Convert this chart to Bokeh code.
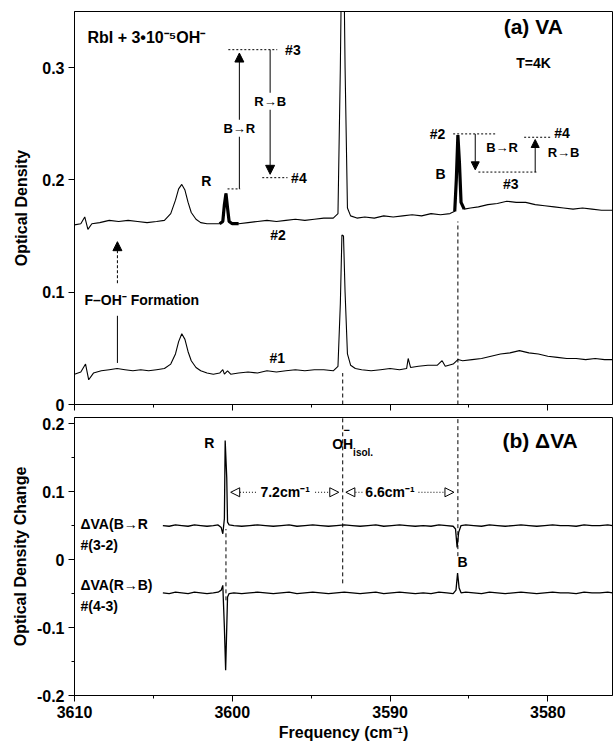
from bokeh.plotting import figure
from bokeh.models import Range1d, FixedTicker, Label, Arrow, NormalHead
from bokeh.layouts import column
from bokeh.embed import file_html
from bokeh.resources import INLINE

FONT = "Liberation Sans"

# ---------------- data ----------------
x_ticks = [3610, 3600, 3590, 3580]
x_minor_ticks = [3605, 3595, 3585, 3575]
top_y_ticks = [0, 0.1, 0.2, 0.3]
bot_y_ticks = [-0.2, -0.1, 0, 0.1, 0.2]
bot_y_minor = [-0.15, -0.05, 0.05, 0.15]

# spectrum #1 (before), optical density
spec1_x = [3610.0, 3609.6, 3609.3, 3609.1, 3608.8, 3608.3, 3607.8, 3607.3, 3606.8, 3606.3,
           3605.8, 3605.3, 3604.8, 3604.3, 3603.9, 3603.6, 3603.4, 3603.2, 3603.0, 3602.8,
           3602.6, 3602.3, 3602.0, 3601.6, 3601.2, 3600.8, 3600.6, 3600.5, 3600.3, 3600.1,
           3599.6, 3599.0, 3598.4, 3597.8, 3597.2, 3596.6, 3596.0, 3595.4, 3594.8, 3594.2,
           3593.6, 3593.3, 3593.15, 3593.05, 3592.95, 3592.85, 3592.7, 3592.5, 3592.2, 3591.8,
           3591.2, 3590.6, 3590.0, 3589.4, 3588.95, 3588.85, 3588.7, 3588.2, 3587.6, 3587.0,
           3586.7, 3586.5, 3586.0, 3585.7, 3585.4, 3584.8, 3584.2, 3583.6, 3583.0, 3582.4,
           3581.8, 3581.2, 3580.6, 3580.0, 3579.4, 3578.8, 3578.2, 3577.6, 3577.0, 3576.4,
           3575.9]
spec1_y = [0.027, 0.029, 0.036, 0.022, 0.028, 0.030, 0.031, 0.032, 0.031, 0.030,
           0.031, 0.030, 0.031, 0.032, 0.036, 0.045, 0.056, 0.063, 0.058, 0.047,
           0.039, 0.033, 0.030, 0.028, 0.027, 0.028, 0.031, 0.027, 0.030, 0.027,
           0.028, 0.029, 0.028, 0.030, 0.029, 0.030, 0.031, 0.030, 0.031, 0.031,
           0.030, 0.034, 0.090, 0.151, 0.150, 0.100, 0.045, 0.035, 0.032, 0.031,
           0.030, 0.031, 0.032, 0.031, 0.032, 0.041, 0.033, 0.034, 0.035, 0.035,
           0.039, 0.034, 0.036, 0.040, 0.039, 0.040, 0.041, 0.043, 0.045, 0.046,
           0.048, 0.046, 0.045, 0.043, 0.042, 0.041, 0.041, 0.040, 0.041, 0.040,
           0.040]

# spectrum #2 (after F-OH- formation), optical density
spec2_x = [3610.0, 3609.6, 3609.35, 3609.15, 3608.9, 3608.4, 3607.8, 3607.2, 3606.6, 3606.0,
           3605.4, 3604.8, 3604.3, 3603.9, 3603.6, 3603.4, 3603.2, 3603.0, 3602.8, 3602.6,
           3602.3, 3602.0, 3601.6, 3601.2, 3600.8, 3600.6, 3600.5, 3600.4, 3600.3, 3600.2,
           3600.0, 3599.6, 3599.0, 3598.4, 3597.8, 3597.2, 3596.6, 3596.0, 3595.4, 3594.8,
           3594.2, 3593.6, 3593.3, 3593.15, 3593.05, 3592.95, 3592.85, 3592.7, 3592.5, 3592.1,
           3591.6, 3591.0, 3590.4, 3589.8, 3589.2, 3588.6, 3588.0, 3587.4, 3586.8, 3586.2,
           3585.9, 3585.8, 3585.7, 3585.6, 3585.5, 3585.3, 3584.9, 3584.4, 3583.8, 3583.2,
           3582.6, 3582.0, 3581.4, 3580.8, 3580.2, 3579.6, 3579.0, 3578.4, 3577.8, 3577.2,
           3576.6, 3575.9]
spec2_y = [0.160, 0.161, 0.167, 0.156, 0.161, 0.162, 0.164, 0.163, 0.164, 0.163,
           0.162, 0.163, 0.164, 0.170, 0.182, 0.192, 0.196, 0.191, 0.180, 0.171,
           0.165, 0.162, 0.161, 0.161, 0.161, 0.163, 0.178, 0.188, 0.175, 0.163,
           0.161, 0.161, 0.162, 0.163, 0.164, 0.163, 0.164, 0.165, 0.164, 0.165,
           0.166, 0.166, 0.170, 0.300, 0.420, 0.420, 0.300, 0.175, 0.168, 0.166,
           0.167, 0.166, 0.168, 0.167, 0.168, 0.169, 0.168, 0.170, 0.169, 0.170,
           0.172, 0.200, 0.240, 0.215, 0.180, 0.174, 0.175, 0.176, 0.178, 0.179,
           0.181, 0.180, 0.180, 0.178, 0.177, 0.176, 0.175, 0.174, 0.175, 0.174,
           0.173, 0.173]

# difference spectrum  dVA(B->R)  #(3-2), offset +0.05
dbr_x = [3604.4, 3604.0, 3603.6, 3603.2, 3602.8, 3602.4, 3602.0, 3601.6, 3601.2, 3600.9,
         3600.7, 3600.6, 3600.5, 3600.45, 3600.35, 3600.3, 3600.2, 3599.9, 3599.4, 3598.9,
         3598.4, 3597.9, 3597.4, 3596.9, 3596.4, 3595.9, 3595.4, 3594.9, 3594.4, 3593.9,
         3593.4, 3592.9, 3592.4, 3591.9, 3591.4, 3590.9, 3590.4, 3589.9, 3589.4, 3588.9,
         3588.4, 3587.9, 3587.4, 3586.9, 3586.4, 3586.0, 3585.85, 3585.75, 3585.65, 3585.5,
         3585.2, 3584.7, 3584.2, 3583.7, 3583.2, 3582.7, 3582.2, 3581.7, 3581.2, 3580.7,
         3580.2, 3579.7, 3579.2, 3578.7, 3578.2, 3577.7, 3577.2, 3576.7, 3576.2, 3575.9]
dbr_y = [0.050, 0.049, 0.051, 0.050, 0.049, 0.051, 0.050, 0.049, 0.050, 0.051,
         0.047, 0.038, 0.060, 0.175, 0.120, 0.055, 0.051, 0.050, 0.049, 0.050,
         0.051, 0.050, 0.049, 0.050, 0.051, 0.049, 0.050, 0.051, 0.050, 0.049,
         0.050, 0.051, 0.050, 0.049, 0.050, 0.051, 0.049, 0.050, 0.051, 0.050,
         0.049, 0.050, 0.049, 0.051, 0.050, 0.049, 0.045, 0.018, 0.040, 0.050,
         0.051, 0.050, 0.049, 0.051, 0.050, 0.049, 0.050, 0.051, 0.050, 0.049,
         0.050, 0.051, 0.050, 0.050, 0.049, 0.051, 0.050, 0.050, 0.051, 0.050]

# difference spectrum  dVA(R->B)  #(4-3), offset -0.05
drb_x = [3604.4, 3604.0, 3603.6, 3603.2, 3602.8, 3602.4, 3602.0, 3601.6, 3601.2, 3600.9,
         3600.7, 3600.6, 3600.5, 3600.42, 3600.35, 3600.3, 3600.2, 3599.9, 3599.4, 3598.9,
         3598.4, 3597.9, 3597.4, 3596.9, 3596.4, 3595.9, 3595.4, 3594.9, 3594.4, 3593.9,
         3593.4, 3592.9, 3592.4, 3591.9, 3591.4, 3590.9, 3590.4, 3589.9, 3589.4, 3588.9,
         3588.4, 3587.9, 3587.4, 3586.9, 3586.4, 3586.0, 3585.82, 3585.72, 3585.62, 3585.5,
         3585.2, 3584.7, 3584.2, 3583.7, 3583.2, 3582.7, 3582.2, 3581.7, 3581.2, 3580.7,
         3580.2, 3579.7, 3579.2, 3578.7, 3578.2, 3577.7, 3577.2, 3576.7, 3576.2, 3575.9]
drb_y = [-0.049, -0.050, -0.048, -0.049, -0.050, -0.048, -0.049, -0.050, -0.049, -0.048,
         -0.045, -0.038, -0.100, -0.163, -0.100, -0.055, -0.050, -0.049, -0.050, -0.049,
         -0.048, -0.049, -0.050, -0.049, -0.048, -0.050, -0.049, -0.048, -0.049, -0.050,
         -0.049, -0.048, -0.049, -0.050, -0.049, -0.048, -0.050, -0.049, -0.048, -0.049,
         -0.050, -0.049, -0.050, -0.048, -0.049, -0.050, -0.045, -0.020, -0.042, -0.049,
         -0.048, -0.049, -0.050, -0.048, -0.049, -0.050, -0.049, -0.048, -0.049, -0.050,
         -0.049, -0.048, -0.049, -0.049, -0.050, -0.048, -0.049, -0.049, -0.048, -0.049]

# line positions
freq_R = 3600.4
freq_OH = 3593.0
freq_B = 3585.7

# levels used by the level diagrams (optical density)
lvl_R_left = 0.192
lvl_3_left = 0.316
lvl_4_left = 0.202
lvl_2_right = 0.241
lvl_3_right = 0.207
lvl_4_right = 0.238

# ---------------- helpers ----------------
def style_axes(p):
    p.outline_line_color = "black"
    p.outline_line_width = 1
    p.grid.grid_line_color = None
    for ax in p.axis:
        ax.axis_line_color = "black"
        ax.major_tick_in = 0
        ax.major_tick_out = 6
        ax.minor_tick_in = 0
        ax.minor_tick_out = 3
        ax.major_label_text_font = FONT
        ax.major_label_text_font_style = "bold"
        ax.major_label_text_font_size = "16px"
        ax.major_label_text_color = "black"
        ax.axis_label_text_font = FONT
        ax.axis_label_text_font_style = "bold"
        ax.axis_label_text_font_size = "16px"
        ax.axis_label_text_color = "black"
        ax.major_label_standoff = 4


def txt(p, x, y, s, size="14px", align="center", bg=None, baseline="middle"):
    lab = Label(x=x, y=y, text=s, text_font=FONT, text_font_style="bold",
                text_font_size=size, text_align=align, text_baseline=baseline,
                text_color="black")
    if bg:
        lab.background_fill_color = bg
        lab.padding = 1
    p.add_layout(lab)


def arrow(p, x0, y0, x1, y1, dash="solid", size=9):
    p.add_layout(Arrow(x_start=x0, y_start=y0, x_end=x1, y_end=y1, line_width=1,
                       line_color="black", line_dash=dash,
                       end=NormalHead(size=size, fill_color="black", line_color="black")))


def open_arrow(p, x0, y, x1):
    p.add_layout(Arrow(x_start=x0, y_start=y, x_end=x1, y_end=y, line_width=1,
                       line_color="black", line_dash="1 2",
                       end=NormalHead(size=9, fill_color="white", line_color="black",
                                      line_width=1)))


# ---------------- top panel ----------------
p1 = figure(width=613, height=414, x_range=Range1d(3610, 3575.9), y_range=Range1d(0, 0.35),
            output_backend="svg", toolbar_location=None, title=None,
            min_border_left=74, min_border_right=1, min_border_top=11, min_border_bottom=10)
style_axes(p1)
p1.xaxis.ticker = FixedTicker(ticks=x_ticks, minor_ticks=x_minor_ticks)
p1.xaxis.major_label_overrides = {t: "" for t in x_ticks}
p1.xaxis.major_label_text_font_size = "1px"
p1.xaxis.major_label_standoff = 0
p1.yaxis.ticker = FixedTicker(ticks=top_y_ticks, minor_ticks=[])
p1.yaxis.major_label_overrides = {0: "0", 0.1: "0.1", 0.2: "0.2", 0.3: "0.3"}
p1.yaxis.axis_label = "Optical Density"
p1.yaxis.axis_label_standoff = 9

p1.line(spec1_x, spec1_y, line_color="black", line_width=1.1)
p1.line(spec2_x, spec2_y, line_color="black", line_width=1.1)
# thick R and B lines of spectrum #2
for lo, hi in [(3599.6, 3600.9), (3585.0, 3586.0)]:
    xs = [x for x in spec2_x if lo <= x <= hi]
    ys = [y for x, y in zip(spec2_x, spec2_y) if lo <= x <= hi]
    p1.line(xs, ys, line_color="black", line_width=3.2)

# vertical dashed guides
p1.line([freq_OH, freq_OH], [0, 0.028], line_color="black", line_dash="4 3", line_width=1)
p1.line([freq_B, freq_B], [0, 0.163], line_color="black", line_dash="4 3", line_width=1)

# left level diagram
p1.line([3600.3, 3599.5], [lvl_R_left] * 2, line_color="black", line_dash="2 2")
p1.line([3600.25, 3597.15], [lvl_3_left] * 2, line_color="black", line_dash="2 2")
p1.line([3598.1, 3596.5], [lvl_4_left] * 2, line_color="black", line_dash="2 2")
arrow(p1, 3599.55, lvl_R_left, 3599.55, lvl_3_left - 0.003)
arrow(p1, 3597.6, lvl_3_left, 3597.6, lvl_4_left + 0.003)
txt(p1, 3599.55, 0.246, "B→R", "13px", bg="white")
txt(p1, 3597.6, 0.270, "R→B", "13px", bg="white")
txt(p1, 3601.65, 0.199, "R")
txt(p1, 3596.65, lvl_3_left, "#3", align="left")
txt(p1, 3596.27, lvl_4_left, "#4", align="left")

# right level diagram
p1.line([3586.0, 3583.3], [lvl_2_right] * 2, line_color="black", line_dash="2 2")
p1.line([3584.4, 3580.6], [lvl_3_right] * 2, line_color="black", line_dash="2 2")
p1.line([3581.5, 3579.8], [lvl_4_right] * 2, line_color="black", line_dash="2 2")
arrow(p1, 3584.6, lvl_2_right, 3584.6, lvl_3_right + 0.002, size=8)
arrow(p1, 3580.8, lvl_3_right, 3580.8, lvl_4_right - 0.002, size=8)
txt(p1, 3586.5, lvl_2_right, "#2", align="right")
txt(p1, 3582.9, 0.229, "B→R", "13px")
txt(p1, 3582.35, 0.196, "#3")
txt(p1, 3579.1, 0.242, "#4")
txt(p1, 3579.0, 0.224, "R→B", "13px")
txt(p1, 3586.8, 0.205, "B")

# trace labels
txt(p1, 3597.1, 0.151, "#2")
txt(p1, 3597.15, 0.041, "#1")

# F-OH formation arrow
p1.line([3607.28, 3607.28], [0.037, 0.079], line_color="black", line_width=1)
arrow(p1, 3607.28, 0.108, 3607.28, 0.145, dash="3 2")
txt(p1, 3609.37, 0.093, "F–OH⁻ Formation", align="left")

# headings
txt(p1, 3609.18, 0.327, "RbI + 3•10⁻⁵OH⁻", "16px", align="left")
txt(p1, 3579.05, 0.337, "(a) VA", "21px", align="right")
txt(p1, 3580.9, 0.304, "T=4K", "14px")

# ---------------- bottom panel ----------------
p2 = figure(width=613, height=334, x_range=p1.x_range, y_range=Range1d(-0.2, 0.209),
            output_backend="svg", toolbar_location=None, title=None,
            min_border_left=74, min_border_right=1, min_border_top=3, min_border_bottom=53)
style_axes(p2)
p2.xaxis.ticker = FixedTicker(ticks=x_ticks, minor_ticks=x_minor_ticks)
p2.xaxis.axis_label = "Frequency (cm⁻¹)"
p2.xaxis.axis_label_standoff = 3
p2.yaxis.ticker = FixedTicker(ticks=bot_y_ticks, minor_ticks=bot_y_minor)
p2.yaxis.major_label_overrides = {-0.2: "-0.2", -0.1: "-0.1", 0: "0", 0.1: "0.1", 0.2: "0.2"}
p2.yaxis.axis_label = "Optical Density Change"
p2.yaxis.axis_label_standoff = 5

p2.line(dbr_x, dbr_y, line_color="black", line_width=1.3)
p2.line(drb_x, drb_y, line_color="black", line_width=1.3)

p2.line([freq_OH, freq_OH], [-0.035, 0.21], line_color="black", line_dash="4 3", line_width=1)
p2.line([freq_B, freq_B], [0.005, 0.21], line_color="black", line_dash="4 3", line_width=1)
p2.line([freq_R, freq_R], [-0.06, 0.045], line_color="black", line_dash="4 3", line_width=1)

# spacing markers
sep_y = 0.099
open_arrow(p2, 3598.5, sep_y, 3600.1)
open_arrow(p2, 3594.75, sep_y, 3593.25)
open_arrow(p2, 3591.75, sep_y, 3592.8)
open_arrow(p2, 3588.2, sep_y, 3585.95)
txt(p2, 3596.65, sep_y, "7.2cm⁻¹", "14px")
txt(p2, 3590.0, sep_y, "6.6cm⁻¹", "14px")

txt(p2, 3601.45, 0.171, "R")
txt(p2, 3593.67, 0.170, "OH", "14px", align="left")
txt(p2, 3592.75, 0.190, "−", "11px", align="center")
txt(p2, 3592.34, 0.158, "isol.", "10px", align="left")
txt(p2, 3585.4, -0.004, "B")

txt(p2, 3609.62, 0.053, "ΔVA(B→R", "14px", align="left")
txt(p2, 3609.62, 0.022, "#(3-2)", "14px", align="left")
txt(p2, 3609.62, -0.038, "ΔVA(R→B)", "14px", align="left")
txt(p2, 3609.62, -0.068, "#(4-3)", "14px", align="left")
txt(p2, 3578.1, 0.175, "(b) ΔVA", "21px", align="right")

layout = column(p1, p2, spacing=0)
open("out.html", "w").write(file_html(layout, INLINE))
